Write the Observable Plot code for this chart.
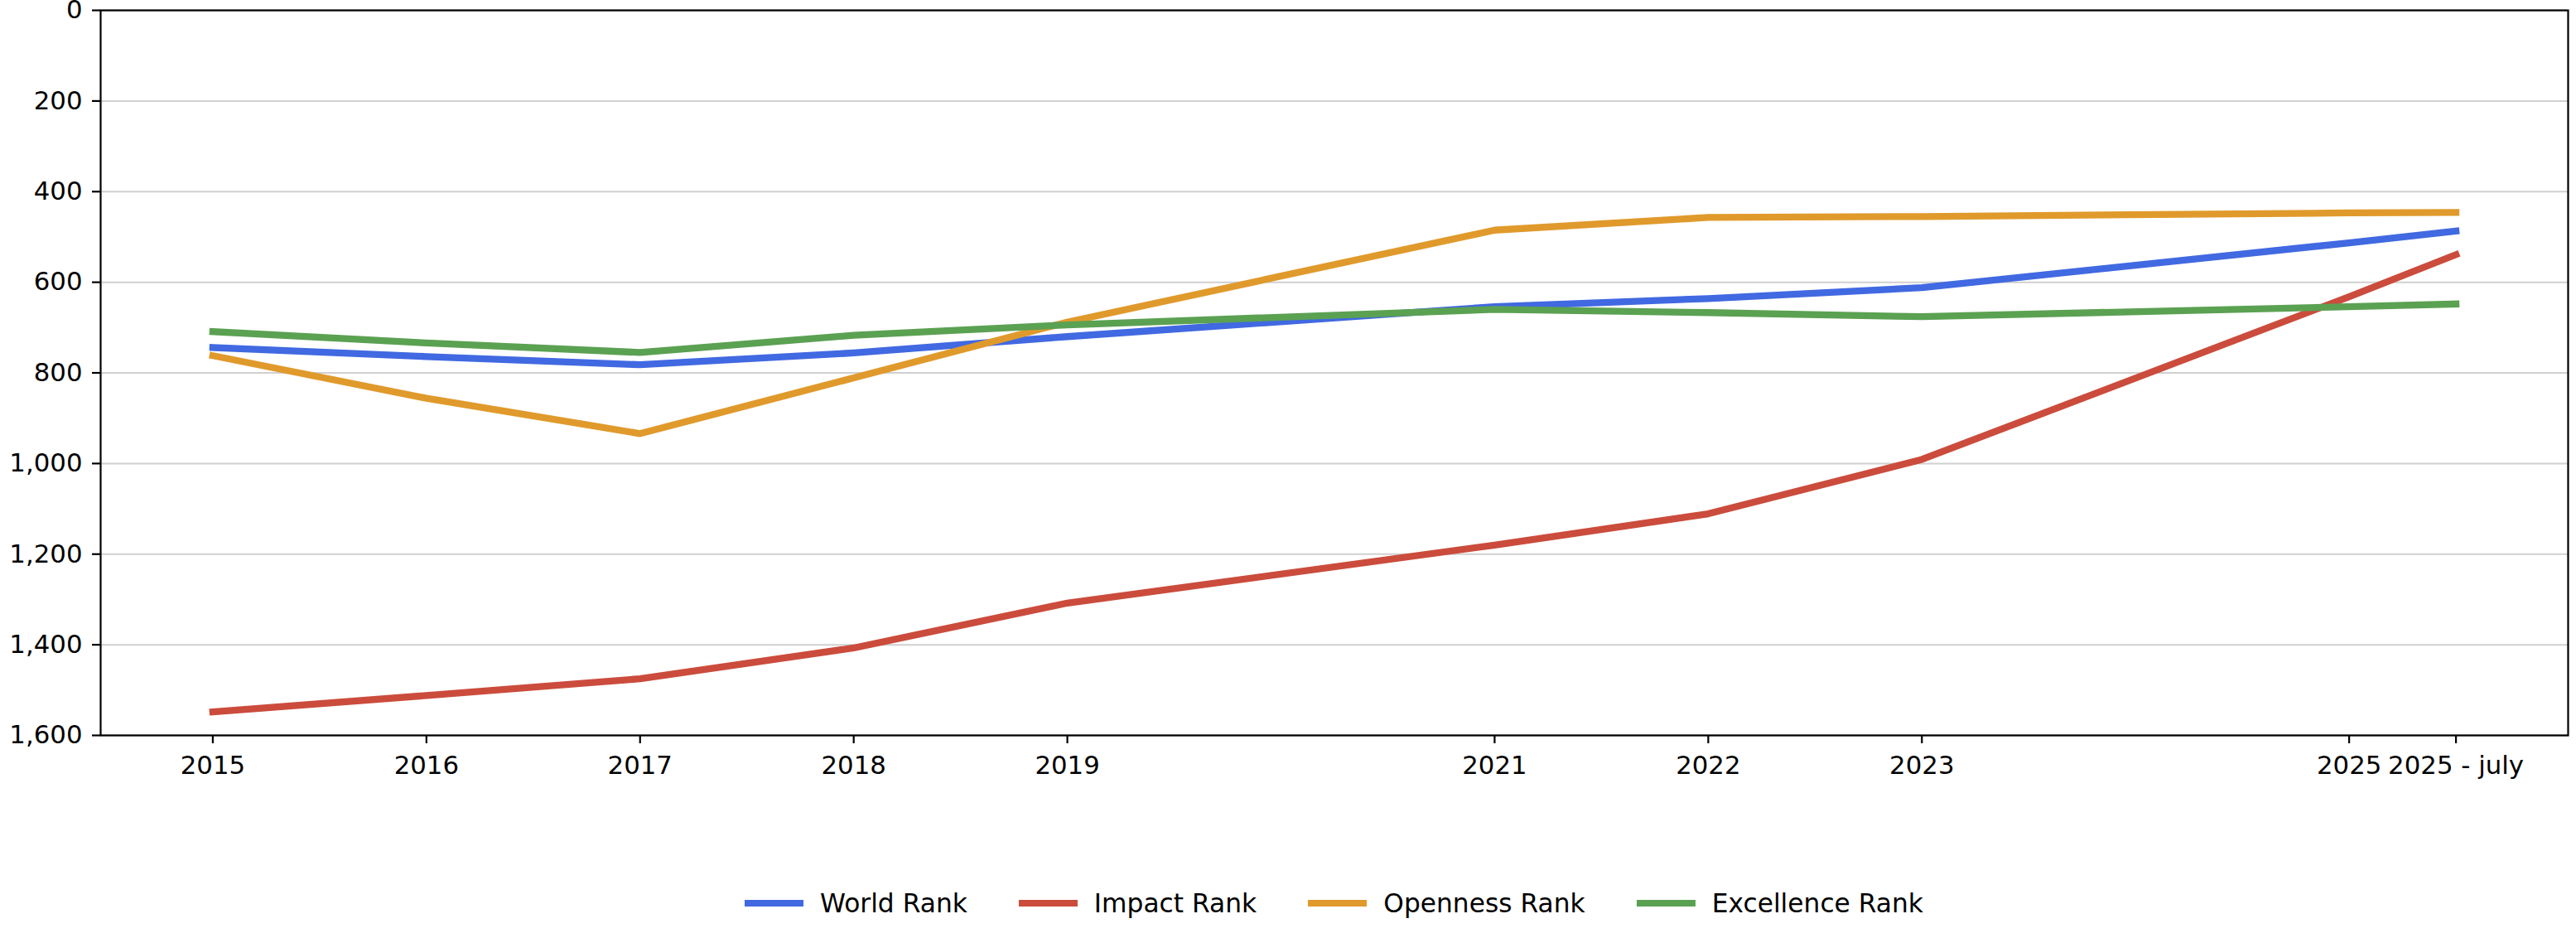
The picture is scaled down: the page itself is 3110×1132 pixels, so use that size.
<!DOCTYPE html>
<html>
<head>
<meta charset="utf-8">
<script src="https://cdn.jsdelivr.net/npm/d3@7"></script>
<script src="https://cdn.jsdelivr.net/npm/@observablehq/plot@0.6"></script>
<style>
  html, body { margin: 0; padding: 0; background: #ffffff; }
  #wrap { position: relative; width: 3110px; height: 1132px; font-family: "DejaVu Sans", sans-serif; }
  #legend { position: absolute; left: 121px; width: 2979px; top: 1070px; height: 40px;
            display: flex; justify-content: center; align-items: center; font-size: 31.3px; color: #000; }
  .item { display: flex; align-items: center; margin: 0 31px; }
  .sw { width: 71px; height: 8px; margin-right: 20px; }
</style>
</head>
<body>
<div id="wrap">
  <div id="chart"></div>
  <div id="legend"></div>
</div>
<script>
// ---- data ----
const years = [2015, 2016, 2017, 2018, 2019, 2021, 2022, 2023, 2025, 2025.5];
const tickLabels = ["2015", "2016", "2017", "2018", "2019", "2021", "2022", "2023", "2025", "2025 - july"];
const seriesNames = ["World Rank", "Impact Rank", "Openness Rank", "Excellence Rank"];
const worldRank      = [744, 764, 782, 756, 720, 654, 636, 612, 513, 487];
const impactRank     = [1548, 1512, 1475, 1407, 1308, 1180, 1111, 991, 632, 539];
const opennessRank   = [762, 856, 934, 811, 688, 485, 457, 455, 447, 446];
const excellenceRank = [709, 734, 755, 717, 694, 660, 667, 676, 654, 648];
const yTicks = [0, 200, 400, 600, 800, 1000, 1200, 1400, 1600];

// ---- build the table ----
const seriesValues = [worldRank, impactRank, opennessRank, excellenceRank];
const rows = seriesNames.flatMap((name, s) =>
  years.map((yr, i) => ({ year: yr, rank: seriesValues[s][i], series: name })));

const palette = ["#4169e1", "#cb4c3c", "#e09a2c", "#5ba152"];

const chart = Plot.plot({
  width: 3110,
  height: 960,
  marginLeft: 121,
  marginRight: 10,
  marginTop: 12,
  marginBottom: 73,
  style: { fontFamily: "DejaVu Sans", fontSize: "30.6px", color: "#000", background: "#fff" },
  x: { domain: [2014.475, 2026.025] },
  y: { domain: [0, 1600], reverse: true },
  color: { domain: seriesNames, range: palette },
  marks: [
    Plot.gridY(yTicks, { stroke: "#d0d0d0", strokeOpacity: 1, strokeWidth: 2 }),
    Plot.line(rows, { x: "year", y: "rank", z: "series", stroke: "series",
                      strokeWidth: 8.3, strokeLinejoin: "round", strokeLinecap: "square" }),
    Plot.frame({ stroke: "#000", strokeWidth: 2.2 }),
    Plot.axisX(years, { tickFormat: d => tickLabels[years.indexOf(d)], tickSize: 10, tickPadding: 15,
                        fontSize: 30.8, strokeWidth: 2.2, label: null }),
    Plot.axisY(yTicks, { tickFormat: d3.format(","), tickSize: 10, tickPadding: 12,
                         fontSize: 30.8, strokeWidth: 2.2, label: null })
  ]
});
document.getElementById("chart").appendChild(chart);

// ---- legend below the SVG ----
const legend = document.getElementById("legend");
seriesNames.forEach((name, i) => {
  const item = document.createElement("div");
  item.className = "item";
  const sw = document.createElement("span");
  sw.className = "sw";
  sw.style.background = palette[i];
  const label = document.createElement("span");
  label.textContent = name;
  item.appendChild(sw);
  item.appendChild(label);
  legend.appendChild(item);
});
</script>
</body>
</html>
